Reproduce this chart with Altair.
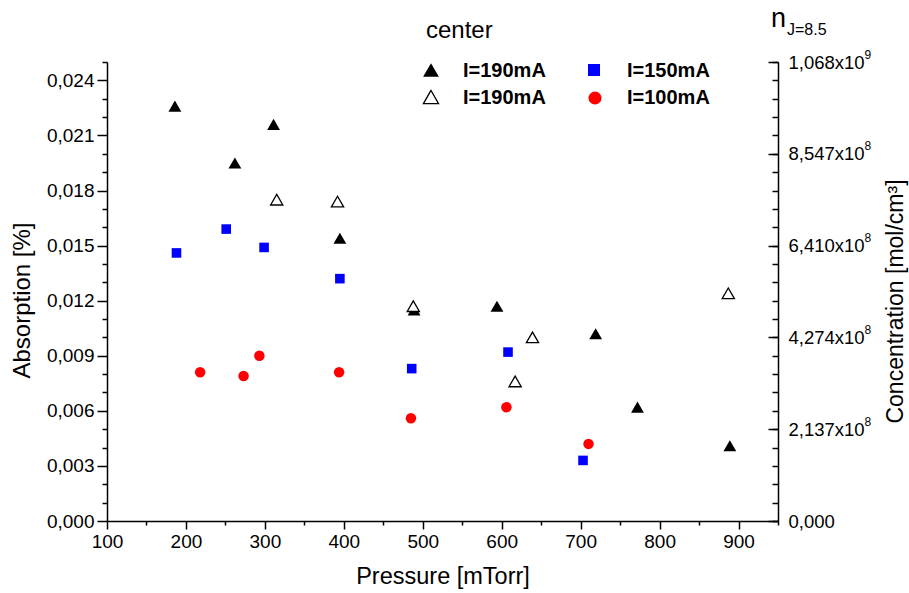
import json
import altair as alt
import pandas as pd

FONT = "Liberation Sans"

# ---- data ----
p_fill_tri = [186, 262, 311, 395, 489, 594, 719, 772, 889]
a_fill_tri = [0.0226, 0.0195, 0.0216, 0.0154, 0.0115, 0.0117, 0.0102, 0.0062, 0.0041]

p_open_tri = [315, 392, 488, 639, 617, 887]
a_open_tri = [0.0175, 0.0174, 0.0117, 0.0100, 0.0076, 0.0124]

p_square = [188, 251, 299, 395, 486, 608, 703]
a_square = [0.0146, 0.0159, 0.0149, 0.0132, 0.0083, 0.0092, 0.0033]

p_circle = [218, 273, 293, 394, 485, 606, 710]
a_circle = [0.0081, 0.0079, 0.0090, 0.0081, 0.0056, 0.0062, 0.0042]

legend_labels = ["I=190mA", "I=190mA", "I=150mA", "I=100mA"]
legend_title = "center"

x_ticks = list(range(100, 951, 50))
y_ticks = [round(i * 0.001, 3) for i in range(26)]
right_major = [0.0, 0.005, 0.010, 0.015, 0.020, 0.025]
right_mantissa = ["0,000", "2,137x10", "4,274x10", "6,410x10", "8,547x10", "1,068x10"]
right_exponent = ["", "8", "8", "8", "8", "9"]

df_fill = pd.DataFrame({"P": p_fill_tri, "A": a_fill_tri})
df_open = pd.DataFrame({"P": p_open_tri, "A": a_open_tri})
df_sq = pd.DataFrame({"P": p_square, "A": a_square})
df_ci = pd.DataFrame({"P": p_circle, "A": a_circle})

XSCALE = alt.Scale(domain=[100, 950], nice=False, zero=False)
YSCALE = alt.Scale(domain=[0, 0.025], nice=False, zero=False)

common_axis = dict(
    domainColor="black", domainWidth=1.5, tickColor="black", tickWidth=1.5,
    labelColor="black", labelFont=FONT, titleFont=FONT, titleColor="black",
    titleFontWeight="normal", labelOverlap=False, labelFlush=False, grid=False,
)

x_axis = alt.Axis(
    values=x_ticks, title="Pressure [mTorr]", orient="bottom",
    labelExpr="datum.value % 100 == 0 && datum.value < 950 ? datum.label : ''",
    tickSize={"condition": {"test": "datum.value % 100 == 0", "value": 8}, "value": 4},
    labelFontSize=19, labelPadding=3, titleFontSize=23.5, titlePadding=13,
    **common_axis,
)


def xenc():
    return alt.X("P:Q", scale=XSCALE, axis=x_axis)


def yenc(axis=None):
    return alt.Y("A:Q", scale=YSCALE, axis=axis)


left_axis = alt.Axis(
    values=y_ticks, title="Absorption [%]", orient="left",
    labelExpr="round(datum.value*1000) % 3 == 0 && datum.value < 0.0245 ? replace(format(datum.value, '.3f'), '.', ',') : ''",
    tickSize={"condition": {"test": "round(datum.value*1000) % 3 == 0", "value": 10}, "value": 5},
    labelFontSize=19, labelPadding=3, titleFontSize=24, titlePadding=12, titleY=238,
    **common_axis,
)

right_domain_axis = alt.Axis(
    orient="right", ticks=False, labels=False, domain=True,
    title="Concentration [mol/cm³]", titleAngle=270, titleBaseline="top",
    titleX=106, titleY=239, titleFontSize=23, **common_axis,
)

right_major_axis = alt.Axis(
    orient="right", offset=-10, domain=False, tickSize=10, values=right_major,
    labelExpr=json.dumps(right_mantissa) + "[round(datum.value*200)]",
    labelPadding=10, labelFontSize=18.5, labelAlign="left", labelBaseline="middle",
    title=None, **common_axis,
)

right_sup_axis = alt.Axis(
    orient="right", offset=0, domain=False, ticks=False, values=right_major,
    labelExpr=json.dumps(right_exponent) + "[round(datum.value*200)]",
    labelPadding=86, labelOffset=-8, labelFontSize=12, labelAlign="left",
    labelBaseline="middle", title=None, **common_axis,
)

right_minor_axis = alt.Axis(
    orient="right", offset=-6, domain=False, tickSize=6, values=y_ticks,
    labels=False, title=None, **common_axis,
)

# axis carrier layers (invisible marks)
axes_layer = alt.Chart(df_sq).mark_point(opacity=0).encode(x=xenc(), y=yenc(left_axis))
r_dom = alt.Chart(df_sq).mark_point(opacity=0).encode(x=xenc(), y=yenc(right_domain_axis))
r_maj = alt.Chart(df_sq).mark_point(opacity=0).encode(x=xenc(), y=yenc(right_major_axis))
r_sup = alt.Chart(df_sq).mark_point(opacity=0).encode(x=xenc(), y=yenc(right_sup_axis))
r_min = alt.Chart(df_sq).mark_point(opacity=0).encode(x=xenc(), y=yenc(right_minor_axis))

# data layers
sq = alt.Chart(df_sq).mark_point(shape="square", filled=True, fill="#0000ff", strokeWidth=0,
                                 size=92, opacity=1).encode(x=xenc(), y=yenc())
ci = alt.Chart(df_ci).mark_point(shape="circle", filled=True, fill="#ff0000", strokeWidth=0,
                                 size=110, opacity=1).encode(x=xenc(), y=yenc())
ft = alt.Chart(df_fill).mark_point(shape="triangle-up", filled=True, fill="black", strokeWidth=0,
                                   size=165, opacity=1).encode(x=xenc(), y=yenc())
ot = alt.Chart(df_open).mark_point(shape="triangle-up", filled=True, fill="white", stroke="black",
                                   strokeWidth=1.3, size=150, opacity=1).encode(x=xenc(), y=yenc())


# legend (positions in pixels)
def one(label):
    return pd.DataFrame({"label": [label]})


leg_title = alt.Chart(one(legend_title)).mark_text(
    align="left", baseline="alphabetic", font=FONT, fontSize=24, color="black"
).encode(x=alt.value(319), y=alt.value(-24), text="label:N")

n_text = alt.Chart(one("n")).mark_text(
    align="left", baseline="alphabetic", font=FONT, fontSize=27, color="black"
).encode(x=alt.value(664), y=alt.value(-35), text="label:N")
j_text = alt.Chart(one("J=8.5")).mark_text(
    align="left", baseline="alphabetic", font=FONT, fontSize=16, color="black"
).encode(x=alt.value(680), y=alt.value(-27), text="label:N")

legend_syms = [
    dict(shape="triangle-up", fill="black", strokeWidth=0, x=324, y=8),
    dict(shape="triangle-up", fill="white", stroke="black", strokeWidth=1.3, x=324, y=35),
    dict(shape="square", fill="#0000ff", strokeWidth=0, x=487, y=8),
    dict(shape="circle", fill="#ff0000", strokeWidth=0, x=488, y=36),
]
legend_sizes = [250, 230, 145, 170]
text_x = [356, 356, 520, 520]
text_y = [9, 36, 9, 36]

legend_layers = []
for i, lab in enumerate(legend_labels):
    s = dict(legend_syms[i])
    px, py = s.pop("x"), s.pop("y")
    legend_layers.append(
        alt.Chart(one(lab)).mark_point(filled=True, opacity=1, size=legend_sizes[i], **s)
        .encode(x=alt.value(px), y=alt.value(py))
    )
    legend_layers.append(
        alt.Chart(one(lab)).mark_text(align="left", baseline="middle", font=FONT, fontSize=20,
                                      fontWeight="bold", color="black")
        .encode(x=alt.value(text_x[i]), y=alt.value(text_y[i]), text="label:N")
    )

chart = alt.layer(
    axes_layer, r_dom, r_maj, r_sup, r_min, sq, ci, ft, ot,
    leg_title, n_text, j_text, *legend_layers,
).resolve_scale(y="independent").properties(
    width=671, height=459,
    padding={"left": 107, "top": 62, "right": 131, "bottom": 72},
    autosize=alt.AutoSizeParams(type="none"),
    background="white",
).configure_view(stroke=None)

chart.save("out.html", embed_options={"renderer": "svg", "actions": False})
